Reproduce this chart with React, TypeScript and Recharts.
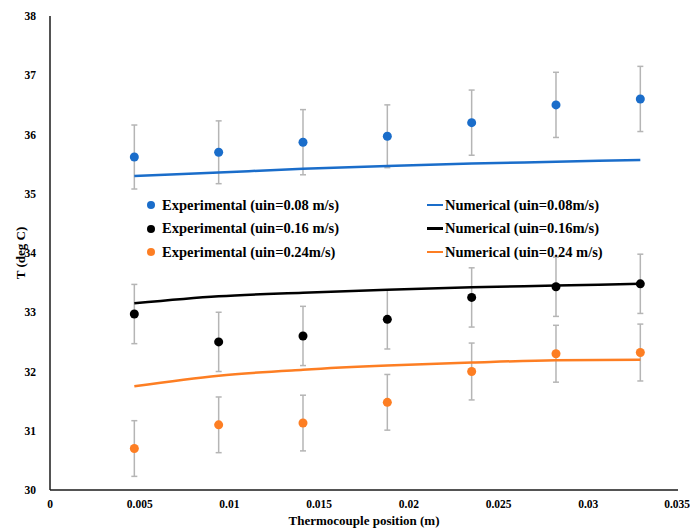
import React from 'react';
import { ComposedChart, Scatter, Line, XAxis, YAxis, ErrorBar } from 'recharts';

const positions = [0.0047, 0.0094, 0.0141, 0.0188, 0.0235, 0.0282, 0.0329];

const exp008 = [35.62, 35.7, 35.87, 35.97, 36.2, 36.5, 36.6];
const exp008Err = [0.54, 0.53, 0.55, 0.53, 0.55, 0.55, 0.55];
const num008 = [35.3, 35.36, 35.42, 35.47, 35.51, 35.54, 35.57];

const exp016 = [32.97, 32.5, 32.6, 32.88, 33.25, 33.43, 33.48];
const exp016Err = [0.5, 0.5, 0.5, 0.5, 0.5, 0.5, 0.5];
const num016 = [33.15, 33.27, 33.33, 33.38, 33.42, 33.45, 33.48];

const exp024 = [30.7, 31.1, 31.13, 31.48, 32.0, 32.3, 32.32];
const exp024Err = [0.47, 0.47, 0.47, 0.47, 0.48, 0.48, 0.48];
const num024 = [31.75, 31.93, 32.03, 32.1, 32.15, 32.19, 32.2];

const xTicks = [0, 0.005, 0.01, 0.015, 0.02, 0.025, 0.03, 0.035];
const yTicks = [30, 31, 32, 33, 34, 35, 36, 37, 38];

const BLUE = '#1a6dca';
const BLACK = '#000000';
const ORANGE = '#fd7e23';
const ERR = '#b5b5b5';
const FONT = '"Liberation Serif", "Times New Roman", serif';

const data = positions.map((x, i) => ({
  x,
  e1: exp008[i], e1Err: exp008Err[i], n1: num008[i],
  e2: exp016[i], e2Err: exp016Err[i], n2: num016[i],
  e3: exp024[i], e3Err: exp024Err[i], n3: num024[i],
}));

const legendLeft = [
  { label: 'Experimental (uin=0.08 m/s)', color: BLUE },
  { label: 'Experimental (uin=0.16 m/s)', color: BLACK },
  { label: 'Experimental (uin=0.24m/s)', color: ORANGE },
];
const legendRight = [
  { label: 'Numerical (uin=0.08m/s)', color: BLUE },
  { label: 'Numerical (uin=0.16m/s)', color: BLACK },
  { label: 'Numerical (uin=0.24 m/s)', color: ORANGE },
];

const dot = (color: string) => (props: any) => (
  <circle cx={props.cx} cy={props.cy} r={4.5} fill={color} />
);

// rotated y title, centred on the plot height
const yTitle = (props: any) => {
  const vb = props.viewBox || {};
  const cx = 20;
  const cy = (vb.y || 0) + (vb.height || 0) / 2;
  return (
    <text x={cx} y={cy} transform={`rotate(-90, ${cx}, ${cy})`} textAnchor="middle" dominantBaseline="central"
      fill="#000" fontSize={13} fontWeight="bold" fontFamily={FONT}>
      T (deg C)
    </text>
  );
};

const LegendBox = () => (
  <div style={{ position: 'absolute', left: 147, top: 195, width: 520, height: 80, fontFamily: FONT, fontWeight: 'bold', fontSize: 14.5, color: '#000' }}>
    {legendLeft.map((item, i) => (
      <div key={item.label} style={{ position: 'absolute', left: 0, top: i * 23.5, height: 20, display: 'flex', alignItems: 'center', whiteSpace: 'nowrap' }}>
        <span style={{ display: 'inline-block', width: 8, height: 8, borderRadius: 4, background: item.color, marginRight: 7 }} />
        {item.label}
      </div>
    ))}
    {legendRight.map((item, i) => (
      <div key={item.label} style={{ position: 'absolute', left: 280, top: i * 23.5, height: 20, display: 'flex', alignItems: 'center', whiteSpace: 'nowrap' }}>
        <span style={{ display: 'inline-block', width: 16, height: 2.5, background: item.color, marginRight: 2 }} />
        {item.label}
      </div>
    ))}
  </div>
);

export default function App() {
  return (
    <div style={{ position: 'absolute', left: 0, top: 0, width: 690, height: 528, background: '#fff' }}>
      <ComposedChart width={690} height={528} data={data} margin={{ top: 16, right: 12, left: 0, bottom: 0 }}>
        <XAxis
          dataKey="x"
          type="number"
          domain={[0, 0.035]}
          ticks={xTicks}
          tickLine={false}
          axisLine={{ stroke: '#1a1a1a', strokeWidth: 1.5 }}
          tick={{ fill: '#000', fontSize: 11.5, fontWeight: 'bold', fontFamily: FONT }}
          tickMargin={4}
          height={38}
          label={{ value: 'Thermocouple position (m)', position: 'insideBottom', offset: 3, fill: '#000', fontSize: 13, fontWeight: 'bold', fontFamily: FONT }}
        />
        <YAxis
          type="number"
          domain={[30, 38]}
          ticks={yTicks}
          tickLine={false}
          width={50}
          axisLine={{ stroke: '#1a1a1a', strokeWidth: 1.5 }}
          tick={{ fill: '#000', fontSize: 11.5, fontWeight: 'bold', fontFamily: FONT }}
          tickMargin={8}
          label={{ value: 'T (deg C)', content: yTitle }}
        />
        <Scatter dataKey="e1" fill={BLUE} shape={dot(BLUE)} isAnimationActive={false}>
          <ErrorBar dataKey="e1Err" direction="y" width={3} stroke={ERR} strokeWidth={1.5} />
        </Scatter>
        <Scatter dataKey="e2" fill={BLACK} shape={dot(BLACK)} isAnimationActive={false}>
          <ErrorBar dataKey="e2Err" direction="y" width={3} stroke={ERR} strokeWidth={1.5} />
        </Scatter>
        <Scatter dataKey="e3" fill={ORANGE} shape={dot(ORANGE)} isAnimationActive={false}>
          <ErrorBar dataKey="e3Err" direction="y" width={3} stroke={ERR} strokeWidth={1.5} />
        </Scatter>
        <Line dataKey="n1" type="monotone" stroke={BLUE} strokeWidth={2.5} dot={false} isAnimationActive={false} />
        <Line dataKey="n2" type="monotone" stroke={BLACK} strokeWidth={2.5} dot={false} isAnimationActive={false} />
        <Line dataKey="n3" type="monotone" stroke={ORANGE} strokeWidth={2.5} dot={false} isAnimationActive={false} />
      </ComposedChart>
      <LegendBox />
    </div>
  );
}
